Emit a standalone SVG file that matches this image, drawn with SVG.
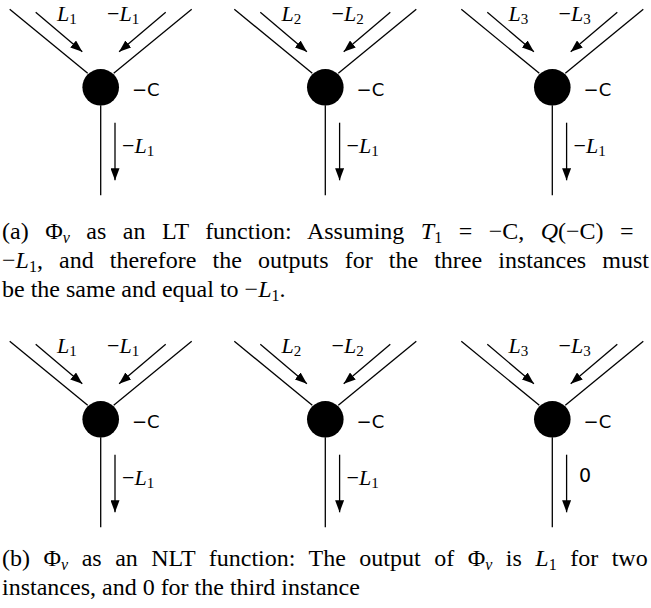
<svg xmlns="http://www.w3.org/2000/svg" width="651" height="608" viewBox="0 0 651 608">
<defs>
<marker id="ah" markerUnits="userSpaceOnUse" markerWidth="12" markerHeight="9" refX="12" refY="4.5" orient="auto">
<path d="M0,0 L12,4.5 L0,9 z" fill="#000"/>
</marker>
<g id="base">
<line x1="-91" y1="-78" x2="-13" y2="-14"/>
<line x1="91" y1="-78" x2="13" y2="-14"/>
<line x1="0" y1="18" x2="0" y2="108"/>
<circle cx="0" cy="0" r="18.3" fill="#000" stroke="none"/>
<line class="arr" x1="-65" y1="-75" x2="-18.4" y2="-35.6"/>
<line class="arr" x1="65" y1="-75" x2="18.4" y2="-35.6"/>
<line class="arr" x1="14.3" y1="35.4" x2="14.3" y2="93"/>
<text class="lab" x="31.3" y="8.7">−C</text>
</g>
</defs>
<style>
line{stroke:#000;stroke-width:1.3;fill:none}
.arr{marker-end:url(#ah)}
.lab{font-family:"DejaVu Sans","Liberation Sans",sans-serif;font-size:18px;fill:#000}
.ml{font-family:"Liberation Serif",serif;font-size:22px;fill:#000}
.it{font-style:italic}
.sub{font-size:15px;font-style:normal}
.zero{font-family:"DejaVu Sans","Liberation Sans",sans-serif;font-size:19px;fill:#000}
.cap{font-family:"Liberation Serif",serif;font-size:24px;fill:#000}
.cs{font-size:16px}
</style>

<g id="a1" transform="translate(100.7,87.3)">
<use href="#base"/>
<text class="ml" x="-43.7" y="-66.3"><tspan class="it">L</tspan><tspan class="sub" dy="3">1</tspan></text>
<text class="ml" x="6.3" y="-66.3">−<tspan class="it">L</tspan><tspan class="sub" dy="3">1</tspan></text>
<text class="ml" x="21.3" y="65.7">−<tspan class="it">L</tspan><tspan class="sub" dy="3">1</tspan></text>
</g>
<g id="a2" transform="translate(325.3,87.3)">
<use href="#base"/>
<text class="ml" x="-43.7" y="-66.3"><tspan class="it">L</tspan><tspan class="sub" dy="3">2</tspan></text>
<text class="ml" x="6.3" y="-66.3">−<tspan class="it">L</tspan><tspan class="sub" dy="3">2</tspan></text>
<text class="ml" x="21.3" y="65.7">−<tspan class="it">L</tspan><tspan class="sub" dy="3">1</tspan></text>
</g>
<g id="a3" transform="translate(552.3,87.3)">
<use href="#base"/>
<text class="ml" x="-43.7" y="-66.3"><tspan class="it">L</tspan><tspan class="sub" dy="3">3</tspan></text>
<text class="ml" x="6.3" y="-66.3">−<tspan class="it">L</tspan><tspan class="sub" dy="3">3</tspan></text>
<text class="ml" x="21.3" y="65.7">−<tspan class="it">L</tspan><tspan class="sub" dy="3">1</tspan></text>
</g>

<g id="capa">
<text class="cap" x="2" y="239" word-spacing="10.5">(a)  Φ<tspan class="it cs" dy="4">v</tspan><tspan dy="-4"> as an LT function: Assuming </tspan><tspan class="it">T</tspan><tspan class="cs" dy="4">1</tspan><tspan dy="-4"> = −C, </tspan><tspan class="it">Q</tspan>(−C) =</text>
<text class="cap" x="2" y="268" word-spacing="10.1">−<tspan class="it">L</tspan><tspan class="cs" dy="4">1</tspan><tspan dy="-4">, and therefore the outputs for the three instances must</tspan></text>
<text class="cap" x="2" y="297">be the same and equal to −<tspan class="it">L</tspan><tspan class="cs" dy="4">1</tspan><tspan dy="-4">.</tspan></text>
</g>

<g id="b1" transform="translate(100.7,419.3)">
<use href="#base"/>
<text class="ml" x="-43.7" y="-66.3"><tspan class="it">L</tspan><tspan class="sub" dy="3">1</tspan></text>
<text class="ml" x="6.3" y="-66.3">−<tspan class="it">L</tspan><tspan class="sub" dy="3">1</tspan></text>
<text class="ml" x="21.3" y="65.7">−<tspan class="it">L</tspan><tspan class="sub" dy="3">1</tspan></text>
</g>
<g id="b2" transform="translate(325.3,419.3)">
<use href="#base"/>
<text class="ml" x="-43.7" y="-66.3"><tspan class="it">L</tspan><tspan class="sub" dy="3">2</tspan></text>
<text class="ml" x="6.3" y="-66.3">−<tspan class="it">L</tspan><tspan class="sub" dy="3">2</tspan></text>
<text class="ml" x="21.3" y="65.7">−<tspan class="it">L</tspan><tspan class="sub" dy="3">1</tspan></text>
</g>
<g id="b3" transform="translate(552.3,419.3)">
<use href="#base"/>
<text class="ml" x="-43.7" y="-66.3"><tspan class="it">L</tspan><tspan class="sub" dy="3">3</tspan></text>
<text class="ml" x="6.3" y="-66.3">−<tspan class="it">L</tspan><tspan class="sub" dy="3">3</tspan></text>
<text class="zero" x="26.7" y="62.4">0</text>
</g>

<g id="capb">
<text class="cap" x="2" y="566" word-spacing="7.5">(b)  Φ<tspan class="it cs" dy="4">v</tspan><tspan dy="-4"> as an NLT function: The output of Φ</tspan><tspan class="it cs" dy="4">v</tspan><tspan dy="-4"> is </tspan><tspan class="it">L</tspan><tspan class="cs" dy="4">1</tspan><tspan dy="-4"> for two</tspan></text>
<text class="cap" x="2" y="595">instances, and 0 for the third instance</text>
</g>
</svg>
